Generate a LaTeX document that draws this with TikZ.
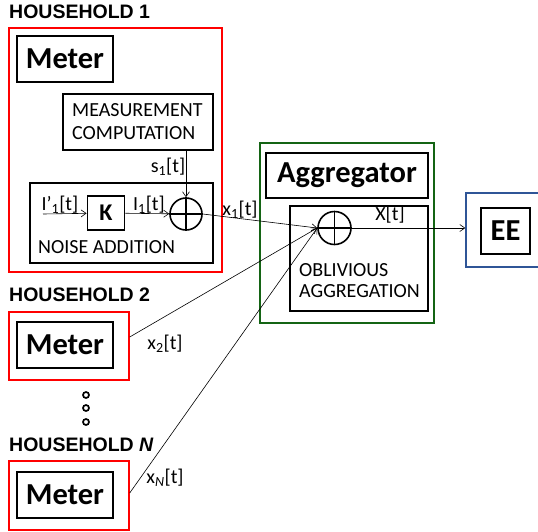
\documentclass[tikz,border=0pt]{standalone}
\usepackage{fontspec}
\setmainfont{Carlito}
\newfontfamily\hhfont{Liberation Sans}
\usetikzlibrary{arrows.meta}
\definecolor{hhred}{RGB}{255,0,0}
\definecolor{agggreen}{RGB}{20,100,20}
\definecolor{eeblue}{RGB}{47,85,151}

\tikzset{
	txt/.style={font=\fontsize{20}{23}\selectfont, inner sep=0pt},
	hhlabel/.style={font=\hhfont\bfseries\fontsize{19.5}{21}\selectfont, inner sep=0pt, anchor=base west},
	housebox/.style={draw=hhred, line width=1.4pt, inner sep=0pt},
	bigbox/.style={draw, line width=1.8pt, inner sep=0pt, font=\bfseries\fontsize{30.5}{33}\selectfont},
	innerbox/.style={draw, line width=1.3pt, inner sep=0pt},
	sumnode/.style={draw, circle, line width=1.6pt, minimum size=32pt, inner sep=0pt},
	sig/.style={line width=0.6pt, -{Straight Barb[length=5pt, width=7pt]}},
	dot/.style={draw, circle, line width=1.7pt, minimum size=6pt, inner sep=0pt}
}

\begin{document}
\begin{tikzpicture}[x=1pt, y=-1pt]
	\clip (0,0) rectangle (538,531);

	% household 1
	\node[hhlabel] (hh1lab) at (9,18) {HOUSEHOLD 1};
	\node[housebox, minimum width=213pt, minimum height=244pt] (hh1) at (115.5,150) {};
	\node[bigbox, minimum width=96pt, minimum height=46pt] (meter1) at (65,59) {Meter};
	\node[innerbox, minimum width=150pt, minimum height=56pt] (meas) at (138,122) {};
	\node[txt, anchor=west, align=left] (meastxt) at (72,122) {MEASUREMENT\\COMPUTATION};
	\node[innerbox, minimum width=183pt, minimum height=80pt] (noise) at (121.5,223) {};
	\node[txt, anchor=base west] (noisetxt) at (38,253) {NOISE ADDITION};
	\node[bigbox, line width=1.8pt, minimum width=37pt, minimum height=34pt, font=\bfseries\fontsize{24}{26}\selectfont] (k) at (106,213) {K};
	\node[sumnode] (plus1) at (186,214) {};
	\draw[line width=1.6pt] (plus1.north) -- (plus1.south) (plus1.west) -- (plus1.east);
	\coordinate (in1) at (43,214);

	\draw[sig] (in1) -- (k);
	\draw[sig] (k) -- (plus1);
	\draw[sig] (meas.south -| plus1) -- (plus1);
	\node[txt] (ilab) at (60,205) {I’\textsubscript{1}[t]};
	\node[txt] (i1lab) at (149,205) {I\textsubscript{1}[t]};
	\node[txt] (s1lab) at (168,167) {s\textsubscript{1}[t]};

	% household 2
	\node[hhlabel] (hh2lab) at (9,301) {HOUSEHOLD 2};
	\node[housebox, minimum width=120pt, minimum height=68pt] (hh2) at (69,346) {};
	\node[bigbox, minimum width=96pt, minimum height=46pt] (meter2) at (65,345) {Meter};

	\node[dot] (dot1) at (86,395) {};
	\node[dot] (dot2) at (86,408) {};
	\node[dot] (dot3) at (86,422) {};

	% household N
	\node[hhlabel] (hhnlab) at (9,451) {HOUSEHOLD \textit{N}};
	\node[housebox, minimum width=120pt, minimum height=69pt] (hhn) at (69,495.5) {};
	\node[bigbox, minimum width=96pt, minimum height=46pt] (metern) at (65,495) {Meter};

	% aggregator
	\node[draw=agggreen, line width=1.4pt, inner sep=0pt, minimum width=174pt, minimum height=180pt] (agg) at (347,233) {};
	\node[bigbox, minimum width=162pt, minimum height=45pt] (agglab) at (347,175.5) {Aggregator};
	\node[innerbox, minimum width=138pt, minimum height=105pt] (obl) at (359,258.5) {};
	\node[txt, anchor=base west] (obltxt) at (299,276) {OBLIVIOUS};
	\node[txt, anchor=base west] (obltxt2) at (299,297) {AGGREGATION};
	\node[sumnode, minimum size=33pt] (plus2) at (334.5,228) {};
	\draw[line width=1.6pt] (plus2.north) -- (plus2.south) (plus2.west) -- (plus2.east);

	% EE
	\node[draw=eeblue, line width=1.4pt, inner sep=0pt, minimum width=100pt, minimum height=74pt] (ee) at (516,230) {};
	\node[bigbox, minimum width=49pt, minimum height=46pt] (eelab) at (505.5,231) {EE};

	% connectors
	\draw[sig] (plus1.east) -- (plus2.west);
	\draw[sig] (hh2.east |- 0,337) -- (plus2.west);
	\draw[sig] (hhn.east |- 0,493) -- (plus2.west);
	\draw[sig] (plus2.east) -- (ee.west |- plus2);
	\node[txt] (x1lab) at (240,210) {x\textsubscript{1}[t]};
	\node[txt] (x2lab) at (165,344) {x\textsubscript{2}[t]};
	\node[txt] (xnlab) at (165,478) {x\textsubscript{\textit{N}}[t]};
	\node[txt] (xlab) at (390,215) {X[t]};
\end{tikzpicture}
\end{document}
